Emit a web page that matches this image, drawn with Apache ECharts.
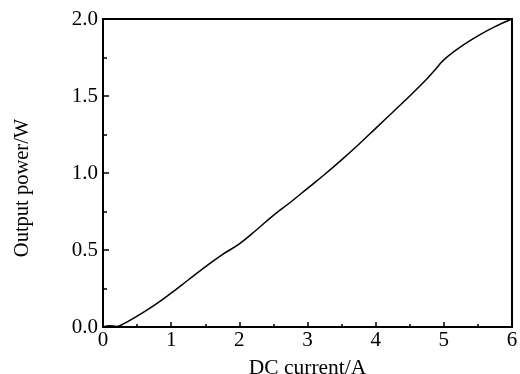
<!DOCTYPE html>
<html>
<head>
<meta charset="UTF-8">
<title>Output power</title>
<script src="https://cdn.jsdelivr.net/npm/echarts@6/dist/echarts.min.js"></script>
<style>
    body { margin: 0; padding: 0; background: #fff; }
    #main { width: 520px; height: 374px; }
</style>
</head>
<body>
<div id="main"></div>
<script type="text/javascript">
    // 电流 (A)
    var current = [0, 0.1, 0.2, 0.3, 0.5, 0.75, 1, 1.25, 1.5, 1.75, 2, 2.25, 2.5, 2.75, 3, 3.25, 3.5, 3.75, 4, 4.25, 4.5, 4.75, 4.9, 5, 5.25, 5.5, 5.75, 6];
    // 输出功率 (W)
    var power = [0, 0.008, 0.004, 0.02, 0.07, 0.14, 0.22, 0.305, 0.39, 0.47, 0.54, 0.63, 0.725, 0.81, 0.9, 0.99, 1.085, 1.185, 1.29, 1.395, 1.5, 1.61, 1.685, 1.735, 1.82, 1.89, 1.95, 2.0];

    var pts = [];
    for (var i = 0; i < current.length; i++) {
        pts.push([current[i], power[i]]);
    }

    var font = 'Liberation Serif';
    var myChart = echarts.init(document.getElementById('main'));
    var option = {
        animation: false,
        grid: {
            left: 103, right: 8, top: 19, bottom: 47,
            outerBoundsMode: 'none',
            show: true, borderColor: '#000', borderWidth: 2
        },
        xAxis: {
            type: 'value',
            min: 0, max: 6, interval: 1,
            name: 'DC current/A',
            nameLocation: 'middle',
            nameGap: 30,
            nameTextStyle: { fontFamily: font, fontSize: 21.5, color: '#000' },
            axisLine: { lineStyle: { color: '#000', width: 2 } },
            axisTick: { inside: true, length: 5, lineStyle: { color: '#000', width: 1.5 } },
            minorTick: { show: true, splitNumber: 2, length: 3, lineStyle: { color: '#000', width: 1.5 } },
            axisLabel: { fontFamily: font, fontSize: 21, color: '#000', margin: 3 },
            splitLine: { show: false }
        },
        yAxis: {
            type: 'value',
            min: 0, max: 2, interval: 0.5,
            name: 'Output power/W',
            nameLocation: 'middle',
            nameGap: 70,
            nameTextStyle: { fontFamily: font, fontSize: 20.5, color: '#000', padding: [0, 30, 0, 0] },
            axisLine: { lineStyle: { color: '#000', width: 2 } },
            axisTick: { inside: true, length: 6, lineStyle: { color: '#000', width: 1.5 } },
            minorTick: { show: true, splitNumber: 2, length: 4, lineStyle: { color: '#000', width: 1.5 } },
            axisLabel: {
                fontFamily: font, fontSize: 21, color: '#000', margin: 5,
                formatter: function (v) { return v.toFixed(1); }
            },
            splitLine: { show: false }
        },
        series: [{
            type: 'line',
            data: pts,
            smooth: 0.4,
            symbol: 'none',
            lineStyle: { color: '#000', width: 1.5 }
        }]
    };
    myChart.setOption(option);
</script>
</body>
</html>
